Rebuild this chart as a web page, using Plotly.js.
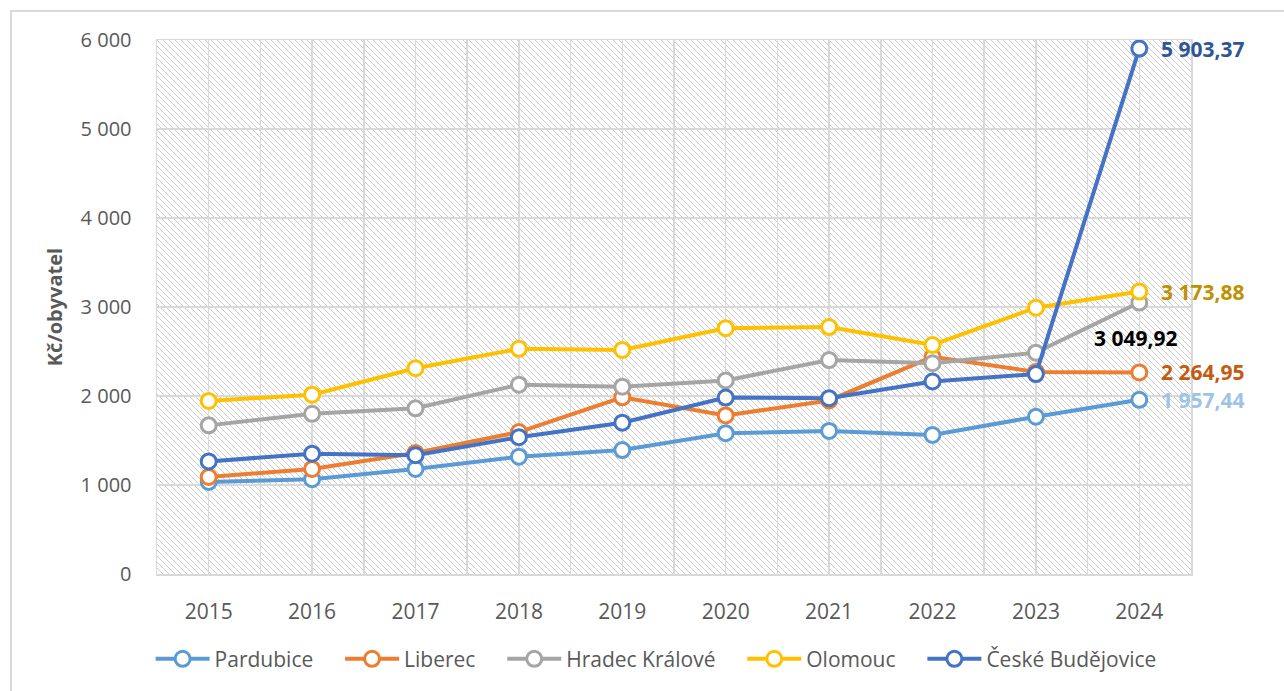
<!DOCTYPE html>
<html><head><meta charset="utf-8">
<script src="https://cdn.plot.ly/plotly-3.0.1.min.js"></script>
<style>
html,body{margin:0;padding:0;background:#fff;overflow:hidden;}
#chart{width:1284px;height:691px;}
#frame{position:absolute;left:10px;top:10px;width:1400px;height:800px;border:2px solid #d9d9d9;pointer-events:none;}
</style>
</head><body>
<div id="chart"></div><div id="frame"></div>
<script>
const years = [2015, 2016, 2017, 2018, 2019, 2020, 2021, 2022, 2023, 2024];
const pardubice       = [1035, 1065, 1180, 1318, 1393, 1582, 1607, 1562, 1767, 1957.44];
const liberec         = [1090, 1180, 1360, 1595, 1985, 1782, 1950, 2440, 2270, 2264.95];
const hradecKralove   = [1670, 1800, 1862, 2127, 2105, 2175, 2404, 2368, 2487, 3049.92];
const olomouc         = [1945, 2015, 2312, 2530, 2518, 2762, 2774, 2573, 2992, 3173.88];
const ceskeBudejovice = [1265, 1352, 1335, 1537, 1700, 1982, 1975, 2163, 2247, 5903.37];
const seriesNames = ['Pardubice', 'Liberec', 'Hradec Králové', 'Olomouc', 'České Budějovice'];

const FONT = '"Open Sans", "Noto Sans", sans-serif';
const seriesData = [pardubice, liberec, hradecKralove, olomouc, ceskeBudejovice];
const lineColors = ['#5B9BD5', '#ED7D31', '#A5A5A5', '#FFC000', '#4472C4'];
const labelColors = ['#9DC3E6', '#C55A11', '#000000', '#BF9000', '#2F5597'];

function fmt(v) {
  const parts = v.toFixed(2).split('.');
  return parts[0].replace(/\B(?=(\d{3})+(?!\d))/g, ' ') + ',' + parts[1];
}

const PAD = '\u00a0\u00a0\u00a0\u00a0';
const traces = seriesData.map((d, i) => ({
  type: 'scatter', mode: 'lines+markers',
  name: seriesNames[i] + (i < seriesData.length - 1 ? PAD : ''),
  x: years, y: d,
  line: {color: lineColors[i], width: 4},
  marker: {symbol: 'circle', size: 15, color: '#ffffff', line: {color: lineColors[i], width: 3}},
  hoverinfo: 'x+y'
}));

const last = years.length - 1;
const annotations = seriesData.map((d, i) => {
  const isGray = i === 2;
  return {
    x: years[last], y: d[last], xref: 'x', yref: 'y',
    text: '<b>' + fmt(d[last]) + '</b>', showarrow: false,
    xanchor: isGray ? 'center' : 'left', yanchor: 'middle',
    xshift: isGray ? -3 : 20, yshift: isGray ? -35 : 0,
    font: {family: FONT, size: 21, color: labelColors[i]}
  };
});

// hatched background for plot area
const PW = 1034, PH = 534;
const svg = `<svg xmlns="http://www.w3.org/2000/svg" width="${PW}" height="${PH}"><defs><pattern id="h" patternUnits="userSpaceOnUse" width="6" height="6"><path d="M0,0 L6,6 M-1,5 L1,7 M5,-1 L7,1" stroke="#cdcdcd" stroke-width="1"/></pattern></defs><rect width="${PW}" height="${PH}" fill="#ffffff"/><rect width="${PW}" height="${PH}" fill="url(#h)"/></svg>`;
const bgImg = 'data:image/svg+xml;base64,' + btoa(svg);

const layout = {
  width: 1284, height: 691,
  margin: {l: 157, r: 93, t: 40, b: 117},
  paper_bgcolor: '#ffffff', plot_bgcolor: '#ffffff',
  separators: ', ',
  font: {family: FONT, color: '#595959'},
  showlegend: true,
  legend: {
    orientation: 'h', xref: 'container', yref: 'container',
    x: 0.511, y: 0.046, xanchor: 'center', yanchor: 'middle',
    font: {family: FONT, size: 21, color: '#595959'},
    itemwidth: 54, tracegroupgap: 0
  },
  xaxis: {
    range: [2014.5, 2024.5], tickmode: 'array', tickvals: years, ticktext: years.map(String),
    showgrid: true, gridcolor: '#d9d9d9', gridwidth: 1.5,
    minor: {tick0: 2014.5, dtick: 0.5, showgrid: true, gridcolor: '#d9d9d9', gridwidth: 1.5},
    zeroline: false, showline: true, mirror: true, linecolor: '#d9d9d9', linewidth: 1.5,
    ticks: '', ticklabelstandoff: 18,
    tickfont: {family: FONT, size: 21, color: '#595959'}, fixedrange: true
  },
  yaxis: {
    range: [0, 6000], dtick: 1000, tickformat: ',d',
    showgrid: true, gridcolor: '#d9d9d9', gridwidth: 1.5,
    zeroline: false, showline: true, mirror: true, linecolor: '#d9d9d9', linewidth: 1.5,
    ticks: '', ticklabelstandoff: 20,
    tickfont: {family: FONT, size: 20, color: '#595959'},
    title: {text: '<b>Kč/obyvatel</b>', font: {family: FONT, size: 20, color: '#595959'}, standoff: 12},
    fixedrange: true
  },
  images: [{source: bgImg, xref: 'paper', yref: 'paper', x: 0, y: 1, sizex: 1, sizey: 1,
            xanchor: 'left', yanchor: 'top', sizing: 'stretch', layer: 'below'}],
  annotations: annotations
};

Plotly.newPlot('chart', traces, layout, {displayModeBar: false, staticPlot: true});
</script>
</body></html>
